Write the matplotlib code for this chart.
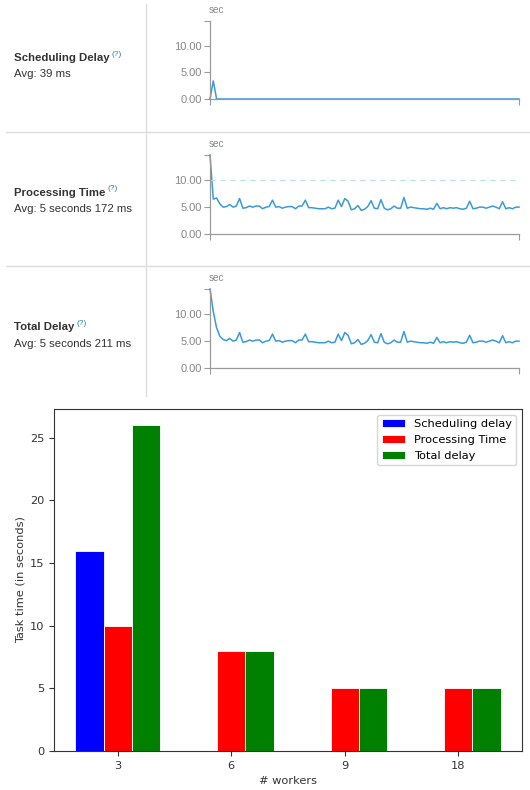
import numpy as np
import matplotlib
matplotlib.use("Agg")
import matplotlib.pyplot as plt

W, H = 530, 790

# ===== streaming UI rows (values in seconds, one per batch) =====
ROW_TITLES = ["Scheduling Delay", "Processing Time", "Total Delay"]
ROW_AVGS = ["Avg: 39 ms", "Avg: 5 seconds 172 ms", "Avg: 5 seconds 211 ms"]

sched_delay = [
    0.0, 3.4, 0.0, 0.0, 0.0, 0.0, 0.0, 0.0, 0.0, 0.0,
    0.0, 0.0, 0.0, 0.0, 0.0, 0.0, 0.0, 0.0, 0.0, 0.0,
    0.0, 0.0, 0.0, 0.0, 0.0, 0.0, 0.0, 0.0, 0.0, 0.0,
    0.0, 0.0, 0.0, 0.0, 0.0, 0.0, 0.0, 0.0, 0.0, 0.0,
    0.0, 0.0, 0.0, 0.0, 0.0, 0.0, 0.0, 0.0, 0.0, 0.0,
    0.0, 0.0, 0.0, 0.0, 0.0, 0.0, 0.0, 0.0, 0.0, 0.0,
    0.0, 0.0, 0.0, 0.0, 0.0, 0.0, 0.0, 0.0, 0.0, 0.0,
    0.0, 0.0, 0.0, 0.0, 0.0, 0.0, 0.0, 0.0, 0.0, 0.0,
    0.0, 0.0, 0.0, 0.0, 0.0, 0.0, 0.0, 0.0, 0.0, 0.0,
    0.0, 0.0, 0.0, 0.0, 0.0,
]

proc_time = [
    14.7, 6.5, 6.7, 5.6, 5.0, 5.1, 5.5, 5.0, 5.2, 6.6,
    4.8, 4.9, 5.2, 5.0, 5.2, 5.2, 4.7, 5.0, 5.1, 6.3,
    5.0, 5.1, 4.8, 5.0, 5.1, 5.1, 4.7, 5.2, 5.2, 6.3,
    4.9, 4.9, 4.8, 4.7, 4.7, 4.7, 5.0, 4.7, 4.8, 6.3,
    5.1, 6.6, 6.1, 4.5, 4.7, 5.3, 4.4, 4.6, 5.1, 6.2,
    4.8, 4.7, 6.4, 4.8, 4.5, 4.7, 5.2, 4.8, 4.8, 6.8,
    4.8, 5.0, 4.9, 4.8, 4.7, 4.7, 4.6, 4.8, 4.6, 5.7,
    4.7, 4.9, 4.7, 4.9, 4.8, 4.9, 4.7, 4.6, 4.8, 6.1,
    4.7, 4.8, 5.0, 5.0, 4.8, 5.0, 5.2, 5.0, 4.7, 6.0,
    4.7, 4.9, 4.7, 5.0, 5.0,
]

total_delay = [
    14.7, 10.5, 7.5, 5.9, 5.3, 5.1, 5.5, 5.0, 5.2, 6.6,
    4.8, 4.9, 5.2, 5.0, 5.2, 5.2, 4.7, 5.0, 5.1, 6.3,
    5.0, 5.1, 4.8, 5.0, 5.1, 5.1, 4.7, 5.2, 5.2, 6.3,
    4.9, 4.9, 4.8, 4.7, 4.7, 4.7, 5.0, 4.7, 4.8, 6.3,
    5.1, 6.6, 6.1, 4.5, 4.7, 5.3, 4.4, 4.6, 5.1, 6.2,
    4.8, 4.7, 6.4, 4.8, 4.5, 4.7, 5.2, 4.8, 4.8, 6.8,
    4.8, 5.0, 4.9, 4.8, 4.7, 4.7, 4.6, 4.8, 4.6, 5.7,
    4.7, 4.9, 4.7, 4.9, 4.8, 4.9, 4.7, 4.6, 4.8, 6.1,
    4.7, 4.8, 5.0, 5.0, 4.8, 5.0, 5.2, 5.0, 4.7, 6.0,
    4.7, 4.9, 4.7, 5.0, 5.0,
]

Y_MAX = 14.7
Y_TICKS = [0, 5, 10]
Y_TICK_LABELS = ["0.00", "5.00", "10.00"]
THRESHOLD = 10  # dashed batch-interval line on processing time

# ===== bar chart =====
workers = ["3", "6", "9", "18"]
bar_sched = [16, 0, 0, 0]
bar_proc = [10, 8, 5, 5]
bar_total = [26, 8, 5, 5]


def box(x0, y0, x1, y1):
    # pixel box (top-left origin) -> figure fraction
    return [x0 / W, 1 - y1 / H, (x1 - x0) / W, (y1 - y0) / H]


fig = plt.figure(figsize=(W / 100, H / 100), dpi=100)

# background layer in pixel coords for separators and labels
bg = fig.add_axes([0, 0, 1, 1], zorder=-5)
bg.set_xlim(0, W)
bg.set_ylim(H, 0)
bg.axis("off")

SEP = "#dddddd"
bg.plot([146, 146], [4, 396], color=SEP, lw=1)
for yy in [132, 266]:
    bg.plot([6, W], [yy, yy], color=SEP, lw=1)

UI_FONT = ["Liberation Sans", "DejaVu Sans"]
LINE_C = "#3a9ad9"
AXIS_C = "#9a9a9a"
TEXT_C = "#888888"

rows = [
    (sched_delay, 21, 99, 58, 74, False),
    (proc_time, 155, 234, 192.5, 209, True),
    (total_delay, 289, 368, 327, 344, False),
]

renderer = fig.canvas.get_renderer()
for i, (series, top, bottom, ty, ay, dashed) in enumerate(rows):
    t = bg.text(14, ty, ROW_TITLES[i], fontsize=8.2, fontweight="bold",
                family=UI_FONT, color="#333333", va="center", ha="left")
    bb = t.get_window_extent(renderer=renderer)
    x_end = bb.x1 / fig.dpi * 100
    bg.text(x_end + 2, ty - 3.5, "(?)", fontsize=6, family=UI_FONT,
            color="#2a7ab8", va="center", ha="left")
    bg.text(14, ay, ROW_AVGS[i], fontsize=8.2, family=UI_FONT,
            color="#333333", va="center", ha="left")
    bg.text(209, top - 11, "sec", fontsize=7.2, family=UI_FONT,
            color=TEXT_C, va="center", ha="left")

    ax = fig.add_axes(box(210, top, 519, bottom))
    x = np.arange(len(series))
    ax.plot(x, series, color=LINE_C, lw=1.1, clip_on=False)
    if dashed:
        ax.axhline(THRESHOLD, color="#b5def2", lw=0.9, ls=(0, (4, 4)))
    ax.set_xlim(0, len(series) - 1)
    ax.set_ylim(0, Y_MAX)
    ax.set_yticks(Y_TICKS + [Y_MAX])
    ax.set_yticklabels(Y_TICK_LABELS + [""])
    ax.set_xticks([0, len(series) - 1])
    ax.set_xticklabels(["", ""])
    ax.tick_params(colors=AXIS_C, labelcolor=TEXT_C, length=4, width=0.8,
                   labelsize=8, pad=2)
    for lab in ax.get_yticklabels():
        lab.set_family(UI_FONT)
    for s in ["top", "right"]:
        ax.spines[s].set_visible(False)
    for s in ["left", "bottom"]:
        ax.spines[s].set_color(AXIS_C)
        ax.spines[s].set_linewidth(0.9)
    ax.patch.set_alpha(0)

# ===== bar chart =====
FS = 8.2
bx = fig.add_axes(box(54, 409, 522, 751))
pos = np.arange(len(workers))
bw = 0.25
bx.bar(pos - bw, bar_sched, bw, color="blue", edgecolor="white", lw=0.6,
       label="Scheduling delay")
bx.bar(pos, bar_proc, bw, color="red", edgecolor="white", lw=0.6,
       label="Processing Time")
bx.bar(pos + bw, bar_total, bw, color="green", edgecolor="white", lw=0.6,
       label="Total delay")
bx.set_xticks(pos)
bx.set_xticklabels(workers)
bx.set_yticks([0, 5, 10, 15, 20, 25])
bx.tick_params(labelsize=FS, colors="#333333", length=3.5, width=0.8)
for s in bx.spines.values():
    s.set_color("#333333")
    s.set_linewidth(0.8)
bx.set_xlabel("# workers", fontsize=FS, color="#333333", labelpad=4)
bx.set_ylabel("Task time (in seconds)", fontsize=FS, color="#333333",
              labelpad=3)
bx.legend(loc="upper right", fontsize=FS)

fig.savefig("out.png", dpi=100)
